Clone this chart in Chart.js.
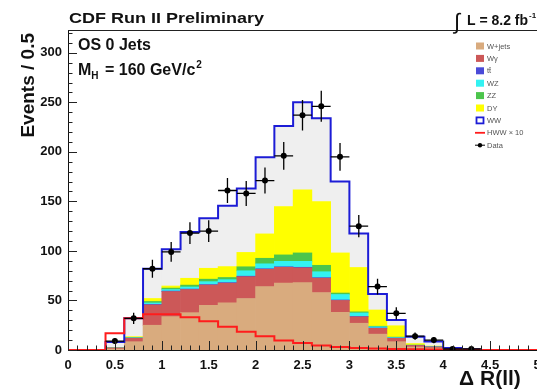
<!DOCTYPE html>
<html>
<head>
<meta charset="utf-8">
<script src="https://cdn.jsdelivr.net/npm/chart.js@4.4.0/dist/chart.umd.min.js"></script>
<style>
  html, body { margin: 0; padding: 0; background: #fff; overflow: hidden; }
  #wrap { width: 537px; height: 390px; overflow: hidden; }
</style>
</head>
<body>
<div id="wrap"><canvas id="chart" width="560" height="390"></canvas></div>
<script>
// Delta R(ll), bins of 0.2 from 0 to 5
const binCenters = [0.1, 0.3, 0.5, 0.7, 0.9, 1.1, 1.3, 1.5, 1.7, 1.9, 2.1, 2.3, 2.5,
                    2.7, 2.9, 3.1, 3.3, 3.5, 3.7, 3.9, 4.1, 4.3, 4.5, 4.7, 4.9];
const binWidth = 0.2;

// stacked backgrounds, bottom to top
const wjets  = [0, 0, 1, 8.4, 25, 33.7, 37.7, 45, 47.5, 52, 64, 67.5, 68, 58, 38, 27, 16, 8.4, 3, 2, 0.8, 0.3, 0, 0, 0];
const wgamma = [0, 0, 1, 3.4, 20.5, 25.3, 23.3, 20.6, 20, 22, 17.5, 16, 15, 14.5, 12, 6.5, 5.9, 3.4, 1.5, 1, 0.4, 0.2, 0, 0, 0];
const ttbar  = [0, 0, 0, 0.2, 0.5, 0.5, 0.5, 0.4, 0.5, 0.5, 0.5, 0.5, 0.5, 0.5, 0.5, 0.3, 0.3, 0.2, 0.1, 0.1, 0, 0, 0, 0, 0];
const wz     = [0, 0, 0, 0.2, 1.5, 1.5, 2.1, 3, 3, 5.5, 5, 5.5, 6, 6, 5.5, 3.6, 1.2, 0.5, 0.2, 0.1, 0.1, 0, 0, 0, 0];
const zz     = [0, 0, 0, 0.3, 1.5, 1.5, 1.9, 2.5, 2.2, 4, 5.6, 6.5, 8.5, 6.5, 1.5, 1.1, 0.6, 0.5, 0.2, 0.1, 0, 0, 0, 0, 0];
const dy     = [0, 0, 0.5, 1, 3, 2.1, 6.9, 11, 11, 14.5, 24.6, 48.8, 63.6, 64.3, 40.5, 44.8, 16.4, 11.5, 1.5, 0.7, 0.3, 0.1, 0, 0, 0];
const ww     = [0, 0, 5.5, 18.5, 30, 37.1, 46.6, 50.5, 61.3, 64.5, 77.4, 81.2, 88.4, 84.2, 72, 34.2, 16.2, 5.8, 7, 4.5, 0.4, 0.2, 0, 0, 0];

// signal, scaled x10
const hwwX10 = [0, 0, 17, 32, 36, 36, 33, 29, 23.5, 18.5, 14, 9.5, 7, 4.5, 3, 2, 1.5, 1, 0.7, 0.5, 0.3, 0.2, 0.1, 0, 0];

// data points
const dataCenters = [0.5, 0.7, 0.9, 1.1, 1.3, 1.5, 1.7, 1.9, 2.1, 2.3, 2.5, 2.7, 2.9, 3.1, 3.3, 3.5, 3.7, 3.9, 4.1, 4.3];
const dataCounts  = [9, 32, 82, 99, 118, 120, 161, 158, 171, 196, 237, 246, 195, 125, 64, 37, 14, 10, 1, 1];
const dataErr     = [3, 5.7, 9.1, 9.9, 10.9, 11, 12.7, 12.6, 13.1, 14, 15.4, 15.7, 14, 11.2, 8, 6.1, 3.7, 3.2, 1, 1];

const xTicks = [0, 0.5, 1, 1.5, 2, 2.5, 3, 3.5, 4, 4.5, 5];
const yTicks = [0, 50, 100, 150, 200, 250, 300];

const colors = {
  wjets: '#d9ab7e', wgamma: '#cc5858', ttbar: '#4a4ad8', wz: '#33f2f2',
  zz: '#4cc54c', dy: '#ffff00', ww: '#efefef', wwLine: '#1c1cd6', hww: '#ff1c1c'
};

const FONT = '"Liberation Sans", Arial, Helvetica, sans-serif';
Chart.defaults.font.family = FONT;

function barSet(label, values, color, order) {
  return {
    type: 'bar', label: label, order: order, stack: 'bkg',
    data: binCenters.map((c, i) => ({ x: c, y: values[i] })),
    backgroundColor: color, borderWidth: 0,
    barPercentage: 1, categoryPercentage: 1
  };
}

function stepSet(label, values, color, order) {
  const pts = binCenters.map((c, i) => ({ x: c - binWidth / 2, y: values[i] }));
  pts.push({ x: binCenters[binCenters.length - 1] + binWidth / 2, y: values[values.length - 1] });
  return {
    type: 'line', label: label, order: order, stack: label,
    data: pts, stepped: true, borderColor: color, borderWidth: 2,
    pointRadius: 0, fill: false
  };
}

const totalBkg = binCenters.map((c, i) => wjets[i] + wgamma[i] + ttbar[i] + wz[i] + zz[i] + dy[i] + ww[i]);

const legendItems = [
  { text: 'W+jets', kind: 'box', color: colors.wjets },
  { text: 'W\u03b3', kind: 'box', color: colors.wgamma },
  { text: 'tt\u0304', kind: 'box', color: colors.ttbar },
  { text: 'WZ', kind: 'box', color: colors.wz },
  { text: 'ZZ', kind: 'box', color: colors.zz },
  { text: 'DY', kind: 'box', color: colors.dy },
  { text: 'WW', kind: 'open', color: colors.wwLine },
  { text: 'HWW \u00d7 10', kind: 'line', color: colors.hww },
  { text: 'Data', kind: 'dot', color: '#000' }
];

// draw text squeezed/stretched to a given width
function fitText(ctx, text, x, y, width) {
  const w = ctx.measureText(text).width;
  ctx.save();
  ctx.translate(x, y);
  ctx.scale(width / w, 1);
  ctx.fillText(text, 0, 0);
  ctx.restore();
}

const decorPlugin = {
  id: 'decor',
  afterDatasetsDraw(chart) {
    // error bars on data
    const ctx = chart.ctx;
    const xs = chart.scales.x, ys = chart.scales.y;
    ctx.save();
    ctx.strokeStyle = '#000';
    ctx.lineWidth = 1.3;
    dataCenters.forEach((c, i) => {
      const px = xs.getPixelForValue(c);
      const py = ys.getPixelForValue(dataCounts[i]);
      ctx.beginPath();
      ctx.moveTo(xs.getPixelForValue(c - binWidth / 2), py);
      ctx.lineTo(xs.getPixelForValue(c + binWidth / 2), py);
      ctx.moveTo(px, ys.getPixelForValue(dataCounts[i] + dataErr[i]));
      ctx.lineTo(px, ys.getPixelForValue(Math.max(0, dataCounts[i] - dataErr[i])));
      ctx.stroke();
    });
    ctx.restore();
  },
  afterDraw(chart) {
    const ctx = chart.ctx;
    const xs = chart.scales.x, ys = chart.scales.y;
    const area = chart.chartArea;
    ctx.save();
    // frame top
    ctx.strokeStyle = '#222';
    ctx.lineWidth = 1;
    ctx.beginPath();
    ctx.moveTo(area.left, area.top + 0.5);
    ctx.lineTo(area.right + 20, area.top + 0.5);
    ctx.stroke();
    // inward ticks
    ctx.beginPath();
    for (let v = 0; v <= 320; v += 10) {
      const py = Math.round(ys.getPixelForValue(v)) + 0.5;
      const len = v % 50 === 0 ? 9 : 4.5;
      ctx.moveTo(area.left, py);
      ctx.lineTo(area.left + len, py);
    }
    for (let k = 0; k <= 50; k++) {
      const px = Math.round(xs.getPixelForValue(k / 10)) + 0.5;
      const len = k % 5 === 0 ? 9 : 4.5;
      ctx.moveTo(px, area.bottom);
      ctx.lineTo(px, area.bottom - len);
    }
    ctx.stroke();

    // texts
    ctx.fillStyle = '#111';
    ctx.textBaseline = 'alphabetic';
    ctx.textAlign = 'left';
    ctx.font = 'bold 15px ' + FONT;
    fitText(ctx, 'CDF Run II Preliminary', 69, 23, 195);

    ctx.font = '22px ' + FONT;
    ctx.fillText('\u222b', 454, 29);
    ctx.font = 'bold 14px ' + FONT;
    ctx.fillText('L = 8.2 fb', 467, 25);
    const w = ctx.measureText('L = 8.2 fb').width;
    ctx.font = 'bold 8px ' + FONT;
    ctx.fillText('-1', 467 + w + 1, 18);

    ctx.font = 'bold 16px ' + FONT;
    ctx.fillText('OS 0 Jets', 78, 50);
    ctx.fillText('M', 78, 75);
    let x = 78 + ctx.measureText('M').width;
    ctx.font = 'bold 10px ' + FONT;
    ctx.fillText('H', x, 79);
    x += ctx.measureText('H').width + 2;
    ctx.font = 'bold 16px ' + FONT;
    ctx.fillText(' = 160 GeV/c', x, 75);
    x += ctx.measureText(' = 160 GeV/c').width;
    ctx.font = 'bold 10px ' + FONT;
    ctx.fillText('2', x + 1, 68);

    // axis titles
    ctx.font = 'bold 21px ' + FONT;
    ctx.fillText('\u0394', 459, 385);
    ctx.fillText('R(ll)', 480, 385);
    ctx.font = 'bold 19px ' + FONT;
    ctx.save();
    ctx.translate(34, 33);
    ctx.rotate(-Math.PI / 2);
    ctx.textAlign = 'right';
    ctx.fillText('Events / 0.5', 0, 0);
    ctx.restore();

    // legend
    ctx.font = '7.5px ' + FONT;
    ctx.textAlign = 'left';
    ctx.textBaseline = 'middle';
    legendItems.forEach((it, i) => {
      const cy = 46 + i * 12.4;
      const bx = 476;
      if (it.kind === 'box') {
        ctx.fillStyle = it.color;
        ctx.fillRect(bx, cy - 3.5, 8, 7);
      } else if (it.kind === 'open') {
        ctx.strokeStyle = it.color;
        ctx.lineWidth = 1.8;
        ctx.strokeRect(bx + 0.5, cy - 3, 7, 6);
      } else if (it.kind === 'line') {
        ctx.strokeStyle = it.color;
        ctx.lineWidth = 1.8;
        ctx.beginPath();
        ctx.moveTo(bx - 1, cy);
        ctx.lineTo(bx + 9, cy);
        ctx.stroke();
      } else {
        ctx.strokeStyle = '#000';
        ctx.lineWidth = 1;
        ctx.beginPath();
        ctx.moveTo(bx - 1, cy);
        ctx.lineTo(bx + 9, cy);
        ctx.stroke();
        ctx.fillStyle = '#000';
        ctx.beginPath();
        ctx.arc(bx + 4, cy, 2.2, 0, Math.PI * 2);
        ctx.fill();
      }
      ctx.fillStyle = '#555';
      ctx.fillText(it.text, bx + 11, cy + 0.5);
    });
    ctx.restore();
  }
};

new Chart(document.getElementById('chart'), {
  data: {
    datasets: [
      {
        type: 'scatter', label: 'Data', order: 0, stack: 'data',
        data: dataCenters.map((c, i) => ({ x: c, y: dataCounts[i] })),
        pointRadius: 3, pointBackgroundColor: '#000', pointBorderColor: '#000', pointBorderWidth: 0
      },
      stepSet('HWW x 10', hwwX10, colors.hww, 1),
      stepSet('WW outline', totalBkg, colors.wwLine, 2),
      barSet('W+jets', wjets, colors.wjets, 3),
      barSet('Wgamma', wgamma, colors.wgamma, 4),
      barSet('ttbar', ttbar, colors.ttbar, 5),
      barSet('WZ', wz, colors.wz, 6),
      barSet('ZZ', zz, colors.zz, 7),
      barSet('DY', dy, colors.dy, 8),
      barSet('WW', ww, colors.ww, 9)
    ]
  },
  options: {
    responsive: false,
    animation: false,
    layout: { padding: { top: 30, right: 23, left: 0, bottom: 0 } },
    plugins: { legend: { display: false }, tooltip: { enabled: false } },
    scales: {
      x: {
        type: 'linear', stacked: true, min: 0, max: 5, offset: false,
        grid: { display: false, drawTicks: false, offset: false },
        border: { display: true, color: '#111', width: 1 },
        afterBuildTicks: (scale) => { scale.ticks = xTicks.map(v => ({ value: v })); },
        afterFit: (scale) => { scale.height = 40; },
        ticks: { padding: 8, color: '#111', font: { size: 13, weight: 'bold' }, maxRotation: 0, autoSkip: false,
                 callback: (v) => String(v) }
      },
      y: {
        type: 'linear', stacked: true, min: 0, max: 323,
        grid: { display: false, drawTicks: false },
        border: { display: true, color: '#111', width: 1 },
        afterBuildTicks: (scale) => { scale.ticks = yTicks.map(v => ({ value: v })); },
        afterFit: (scale) => { scale.width = 68; },
        ticks: { padding: 6, color: '#111', font: { size: 13, weight: 'bold' } }
      }
    }
  },
  plugins: [decorPlugin]
});
</script>
</body>
</html>
